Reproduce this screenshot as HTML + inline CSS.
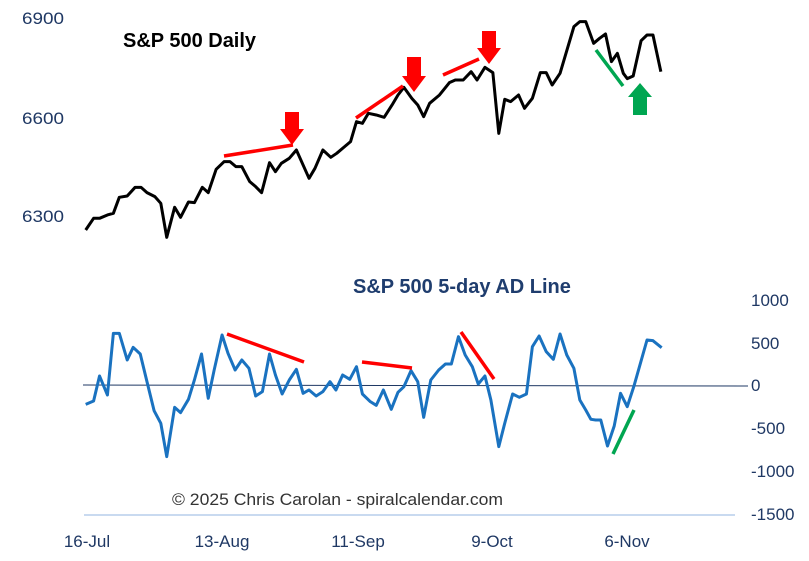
<!DOCTYPE html>
<html><head><style>
html,body{margin:0;padding:0;background:#fff;width:809px;height:561px;overflow:hidden}
svg{display:block}
.ax{font-family:"Liberation Sans Narrow","Liberation Sans",sans-serif;font-size:17px;fill:#1f3864}
</style></head><body>
<svg width="809" height="561" viewBox="0 0 809 561">
<rect width="809" height="561" fill="#fff"/>
<g class="ax">
<text x="22" y="24" textLength="42" lengthAdjust="spacingAndGlyphs">6900</text>
<text x="22" y="124" textLength="42" lengthAdjust="spacingAndGlyphs">6600</text>
<text x="22" y="222" textLength="42" lengthAdjust="spacingAndGlyphs">6300</text>
<text x="751" y="306">1000</text>
<text x="751" y="349">500</text>
<text x="751" y="391">0</text>
<text x="751" y="434">-500</text>
<text x="751" y="477">-1000</text>
<text x="751" y="520">-1500</text>
<text x="87" y="547" text-anchor="middle">16-Jul</text>
<text x="222" y="547" text-anchor="middle">13-Aug</text>
<text x="358" y="547" text-anchor="middle">11-Sep</text>
<text x="492" y="547" text-anchor="middle">9-Oct</text>
<text x="627" y="547" text-anchor="middle">6-Nov</text>
</g>
<line x1="84" y1="515" x2="735" y2="515" stroke="#c9daf0" stroke-width="2"/>
<line x1="83" y1="385" x2="748" y2="386" stroke="#1f3864" stroke-width="1"/>
<text x="123" y="47" font-family="Liberation Sans,sans-serif" font-weight="bold" font-size="20" fill="#000">S&amp;P 500 Daily</text>
<text x="353" y="293" font-family="Liberation Sans,sans-serif" font-weight="bold" font-size="20" fill="#1f3d6e">S&amp;P 500 5-day AD Line</text>
<text x="172" y="505" font-family="Liberation Sans Narrow,Liberation Sans,sans-serif" font-size="17" fill="#333" textLength="331" lengthAdjust="spacingAndGlyphs">© 2025 Chris Carolan - spiralcalendar.com</text>
<g transform="translate(60,0) scale(0.3953,0.3333)">
<polyline fill="none" stroke="#000" stroke-width="3" vector-effect="non-scaling-stroke" stroke-linejoin="round" points="65,690 85,655 100,655 120,645 135,640 150,592 170,588 190,562 205,562 220,578 240,590 255,610 270,712 290,622 305,652 325,606 340,608 360,562 375,578 395,508 415,485 430,485 445,500 460,500 480,545 495,560 510,578 530,488 545,515 560,490 580,475 598,450 630,535 645,505 665,450 685,472 700,460 720,440 735,425 750,365 765,370 780,340 800,345 820,352 840,315 855,285 870,262 890,295 905,315 920,350 935,310 960,285 985,248 1000,240 1020,240 1040,215 1055,240 1075,202 1095,218 1110,400 1125,298 1140,305 1160,285 1175,325 1195,295 1215,218 1230,218 1245,255 1265,220 1280,160 1300,80 1315,65 1330,65 1350,130 1365,115 1380,102 1395,185 1410,160 1425,220 1435,236 1450,228 1470,122 1485,105 1500,105 1520,215"/>
</g>
<g transform="translate(60,320) scale(0.3953,0.3333)">
<polyline fill="none" stroke="#1a72c0" stroke-width="3" vector-effect="non-scaling-stroke" stroke-linejoin="round" points="65,253 85,243 100,168 120,225 135,40 150,40 170,120 185,82 203,102 220,185 238,272 255,310 270,410 290,262 305,278 325,238 340,180 358,102 375,235 390,150 410,45 425,100 443,150 460,120 478,145 495,228 512,215 530,102 545,165 562,222 580,180 598,148 615,220 630,210 648,228 665,215 683,185 698,210 715,165 733,178 750,140 765,222 785,245 800,256 818,210 838,268 855,217 870,200 888,152 905,185 920,292 938,180 958,150 975,132 990,132 1008,50 1025,105 1043,140 1058,192 1075,168 1090,240 1110,380 1125,310 1145,222 1162,232 1180,222 1195,80 1212,48 1230,95 1248,118 1265,42 1282,105 1300,145 1315,240 1330,270 1343,298 1355,300 1368,300 1385,378 1402,318 1418,220 1435,260 1452,198 1485,60 1500,62 1522,83"/>
</g>
<g stroke="#f00" stroke-width="3.5">
<line x1="224" y1="156" x2="293" y2="145"/>
<line x1="356" y1="118" x2="403" y2="86"/>
<line x1="443" y1="75" x2="479" y2="59"/>
<line x1="227" y1="334" x2="304" y2="362"/>
<line x1="362" y1="362" x2="412" y2="368"/>
<line x1="461" y1="332" x2="494" y2="379"/>
</g>
<g stroke="#00a651" stroke-width="3.5">
<line x1="596" y1="50" x2="623" y2="86"/>
<line x1="613" y1="454" x2="634" y2="410"/>
</g>
<g fill="#f00">
<polygon points="285,112 299,112 299,129 304,129 292,145 280,129 285,129"/>
<polygon points="407,57 421,57 421,76 426,76 414,92 402,76 407,76"/>
<polygon points="482,31 496,31 496,48 501,48 489,64 477,48 482,48"/>
</g>
<polygon fill="#00a651" points="633,115 647,115 647,97 652,97 640,83 628,97 633,97"/>
</svg>
</body></html>
